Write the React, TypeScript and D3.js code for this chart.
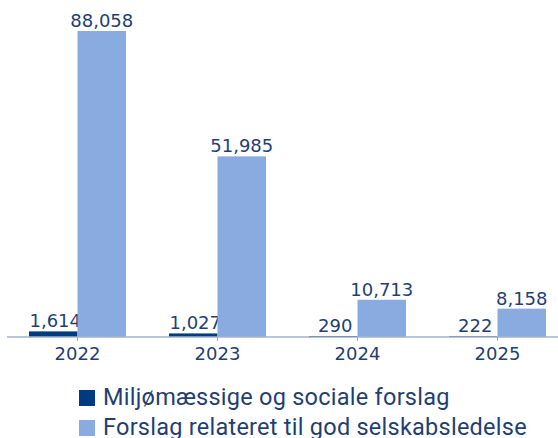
import React from "react";
import * as d3 from "d3";

const years = ["2022", "2023", "2024", "2025"];
const envSocial = [1614, 1027, 290, 222];
const governance = [88058, 51985, 10713, 8158];
const seriesNames = ["Miljømæssige og sociale forslag", "Forslag relateret til god selskabsledelse"];
const colors = ["#003a80", "#8aabe0"];

export default function App() {
  const W = 558, H = 438;
  const axisY = 337;
  const x = d3.scaleBand().domain(years).range([7.5, 567.5]).paddingInner(0.307).paddingOuter(0.1535);
  const x1 = d3.scaleBand().domain(["a", "b"]).range([0, x.bandwidth()]);
  const y = d3.scaleLinear().domain([0, 88058]).range([axisY, 31]);
  const fmt = d3.format(",");
  const textColor = "#1f3f73";
  const numFont = "'DejaVu Sans', sans-serif";
  const series = [envSocial, governance];
  return (
    <svg width={W} height={H} style={{ position: "absolute", left: 0, top: 0 }}>
      {years.map((yr, i) => (
        <g key={yr} transform={`translate(${x(yr)},0)`}>
          {series.map((s, j) => {
            const bx = x1(j === 0 ? "a" : "b")!;
            const top = y(s[i]);
            return (
              <g key={j}>
                <rect x={bx} y={top} width={x1.bandwidth()} height={axisY - top} fill={colors[j]} />
                <text x={bx + x1.bandwidth() / 2 + (j === 0 ? 2 : 0)} y={top - 4} textAnchor="middle" fontFamily={numFont} fontSize={18} fill={textColor}>
                  {fmt(s[i])}
                </text>
              </g>
            );
          })}
        </g>
      ))}
      <line x1={7} x2={558} y1={axisY} y2={axisY} stroke="#9fb3d1" strokeWidth={1.5} />
      {years.map((yr) => (
        <g key={yr}>
          <line x1={x(yr)! + x.bandwidth() / 2} x2={x(yr)! + x.bandwidth() / 2} y1={axisY} y2={axisY + 4} stroke="#9fb3d1" strokeWidth={1} />
          <text x={x(yr)! + x.bandwidth() / 2} y={360} textAnchor="middle" fontFamily={numFont} fontSize={18} fill={textColor}>
            {yr}
          </text>
        </g>
      ))}
      {seriesNames.map((n, j) => (
        <g key={n} transform={`translate(79,${390 + j * 30})`}>
          <rect x={0} y={0} width={16} height={16} fill={colors[j]} />
          <text x={24} y={15} fontFamily="Roboto, sans-serif" fontSize={23.5} letterSpacing={0.25} fill={textColor}>{n}</text>
        </g>
      ))}
    </svg>
  );
}
